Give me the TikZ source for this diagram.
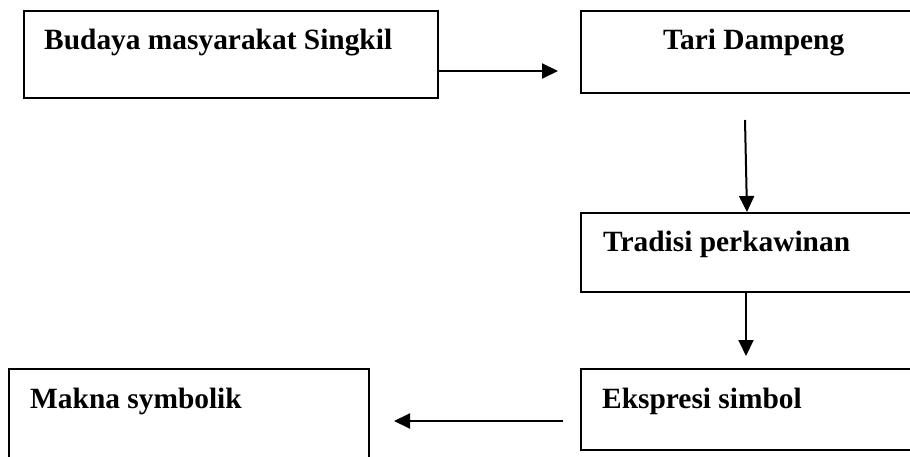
\documentclass[tikz,border=0pt]{standalone}
\usepackage{fontspec}
\setmainfont{Liberation Serif}
\usetikzlibrary{arrows.meta}
\begin{document}
\begin{tikzpicture}[x=1pt,y=-1pt,
  box/.style={draw=black,line width=2pt,inner sep=0pt,rectangle},
  lbl/.style={anchor=base west,inner sep=0pt,font=\fontsize{29.4}{35}\selectfont\bfseries},
  arr/.style={line width=2pt,-{Triangle[length=16pt,width=15pt]}}]
\useasboundingbox (0,0) rectangle (910,457);
\clip (0,0) rectangle (910,457);
% boxes
\node[box,minimum width=414pt,minimum height=87pt] (b1) at (231,54.5) {};
\node[box,minimum width=349pt,minimum height=82pt] (b2) at (755.5,52) {};
\node[box,minimum width=349pt,minimum height=79pt] (b3) at (755.5,252.5) {};
\node[box,minimum width=349pt,minimum height=81pt] (b4) at (755.5,409.5) {};
\node[box,minimum width=360pt,minimum height=101pt] (b5) at (189,419.5) {};
% labels
\node[lbl] (t1) at (44,50) {Budaya masyarakat Singkil};
\node[lbl] (t2) at (663,50) {Tari Dampeng};
\node[lbl] (t3) at (603,251.5) {Tradisi perkawinan};
\node[lbl] (t4) at (602,408) {Ekspresi simbol};
\node[lbl] (t5) at (30,408) {Makna symbolik};
% connector ends
\coordinate (a1e) at (558,71);
\coordinate (a2s) at (745,120);
\coordinate (a3e) at (746,356);
\coordinate (a4s) at (563,421);
\coordinate (a4e) at (394,421);
% connectors
\draw[arr] ([yshift=-16.5pt]b1.east) -- (a1e);
\draw[arr] (a2s) -- ([xshift=-8.5pt]b3.north);
\draw[arr] ([xshift=-9.5pt]b3.south) -- (a3e);
\draw[arr] (a4s) -- (a4e);
\end{tikzpicture}
\end{document}
